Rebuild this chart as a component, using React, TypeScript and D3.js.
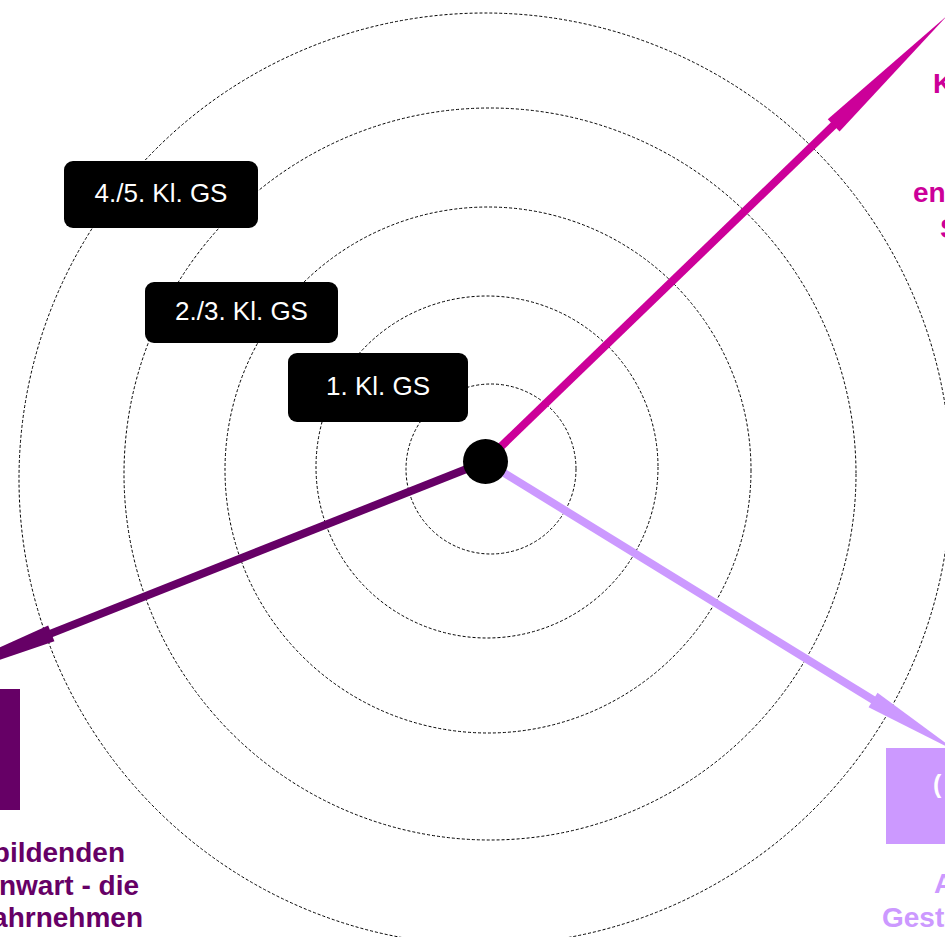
import React from "react";
import * as d3 from "d3";

const W = 945;
const H = 937;

// dotted rings (hand-placed concentric circles): radius and centre
const ringR = [85, 171, 263, 366, 466];
const ringCx = [491, 487, 488, 490, 485];
const ringCy = [469, 467, 470, 474, 479];
const hub = { x: 485.5, y: 461.5, r: 22.5 };

// axes: angle (deg, svg), distance to arrow-head base, distance to tip
const axisNames = ["kunst", "welt", "gestalt"];
const axisAngles = [-44.0, 158.4, 31.6];
const axisHeadStart = [484, 467, 455];
const axisTip = [642, 640, 555];
const axisColors = ["#CC0099", "#660066", "#CC99FF"];

// level labels (black boxes)
const levelLabels = ["1. Kl. GS", "2./3. Kl. GS", "4./5. Kl. GS"];
const levelBoxX = [288, 145, 64];
const levelBoxY = [353, 282, 161];
const levelBoxW = [180, 193, 194];
const levelBoxH = [69, 61, 67];

// category texts (only the parts inside the frame)
const magentaLines = ["Kunst", "entdecken", "Spuren"];
const magentaRow = [0, 3, 4];
const magentaX = [933, 913, 940];
const darkLines = ["Werke der bildenden", "Kunst der Gegenwart - die", "Welt wahrnehmen"];
const darkRight = [125, 139, 143];
const lightLines = ["Ausdruck", "Gestaltung"];
const lightX = [934, 882];

export default function App() {
  const rScale = d3.scaleLinear().domain([0, 1]).range([0, 1]);
  return (
    <div style={{ position: "fixed", left: 0, top: 0, width: W, height: H, background: "#fff" }}>
      <svg width={W} height={H} style={{ display: "block" }} fontFamily="'Liberation Sans', Arial, Helvetica, sans-serif">
        <rect x={0} y={0} width={W} height={H} fill="#fff" />
        {ringR.map((r, i) => (
          <circle key={i} cx={ringCx[i]} cy={ringCy[i]} r={rScale(r)} fill="none" stroke="#000" strokeWidth={1} strokeDasharray="3,2" />
        ))}
        {axisNames.map((n, i) => {
          const a = (axisAngles[i] * Math.PI) / 180;
          const ux = Math.cos(a), uy = Math.sin(a);
          const px = -uy, py = ux;
          const hs = axisHeadStart[i], tp = axisTip[i];
          const bx = hub.x + ux * hs, by = hub.y + uy * hs;
          const tx = hub.x + ux * tp, ty = hub.y + uy * tp;
          const hw = 8.5;
          const pts: [number, number][] = [
            [bx + px * hw, by + py * hw],
            [tx, ty],
            [bx - px * hw, by - py * hw],
          ];
          return (
            <g key={n}>
              <line x1={hub.x} y1={hub.y} x2={bx + ux * 2} y2={by + uy * 2} stroke={axisColors[i]} strokeWidth={8} />
              <path d={d3.line()(pts) + "Z"} fill={axisColors[i]} />
            </g>
          );
        })}
        <circle cx={hub.x} cy={hub.y} r={hub.r} fill="#000" />
        {levelLabels.map((t, i) => (
          <g key={t}>
            <rect x={levelBoxX[i]} y={levelBoxY[i]} width={levelBoxW[i]} height={levelBoxH[i]} rx={9} fill="#000" />
            <text x={levelBoxX[i] + levelBoxW[i] / 2} y={levelBoxY[i] + levelBoxH[i] / 2 + 7} textAnchor="middle" fill="#fff" fontSize={26}>
              {t}
            </text>
          </g>
        ))}
        {/* category boxes */}
        <rect x={-40} y={689} width={60} height={121} fill="#660066" />
        <rect x={886} y={748} width={120} height={96} fill="#CC99FF" />
        <text x={933} y={793} fill="#fff" fontSize={25} fontWeight="bold">(</text>
        {/* texts */}
        {magentaLines.map((t, i) => (
          <text key={t} x={magentaX[i]} y={93 + magentaRow[i] * 36.3} fill="#CC0099" fontSize={28} fontWeight="bold">{t}</text>
        ))}
        {darkLines.map((t, i) => (
          <text key={t} x={darkRight[i]} y={862 + i * 32.5} textAnchor="end" fill="#660066" fontSize={28} fontWeight="bold">{t}</text>
        ))}
        {lightLines.map((t, i) => (
          <text key={t} x={lightX[i]} y={893 + i * 34} fill="#CC99FF" fontSize={28} fontWeight="bold">{t}</text>
        ))}
      </svg>
    </div>
  );
}
